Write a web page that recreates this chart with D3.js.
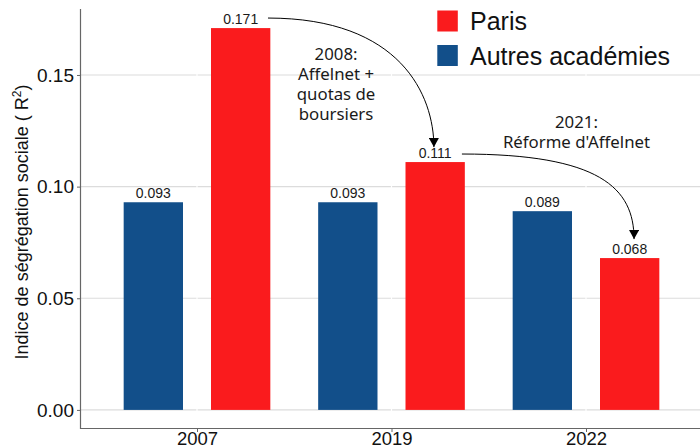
<!DOCTYPE html>
<html>
<head>
<meta charset="utf-8">
<script src="https://cdn.jsdelivr.net/npm/d3@7"></script>
<style>
  html, body { margin: 0; padding: 0; background: #fff; }
  svg { display: block; }
</style>
</head>
<body>
<svg id="chart" width="700" height="448"></svg>
<script>
// ---- data ----
const categories = ["2007", "2019", "2022"];
const seriesNames = ["Autres académies", "Paris"];
const autresValues = [0.093, 0.093, 0.089];
const parisValues = [0.171, 0.111, 0.068];
const yTickValues = [0, 0.05, 0.10, 0.15];
const yTickLabels = ["0.00", "0.05", "0.10", "0.15"];
const legendLabels = ["Paris", "Autres académies"];
const annotationTexts = [
  ["2008:", "Affelnet +", "quotas de", "boursiers"],
  ["2021:", "Réforme d'Affelnet"]
];
// annotation anchors in data units (x: category position, y: value)
const annotationX = [1.715, 2.951];
const annotationY = [0.1567, 0.1261];
// arrows: start / end in data units (x: category position, y: value)
const arrowStartX = [1.365, 2.362];
const arrowStartY = [0.1755, 0.1146];
const arrowEndX = [2.218, 3.247];
const arrowEndY = [0.1177, 0.0765];

// ---- styles ----
const RED = "#fa1b1d";
const BLUE = "#124f8a";
const colorOf = { "Paris": RED, "Autres académies": BLUE };

const svg = d3.select("#chart");
const W = 700, H = 448;

const x = d3.scaleLinear().domain([0.4, 3.6]).range([80.3, 702.7]);
const y = d3.scaleLinear().domain([-0.00855, 0.17955]).range([429, 9]);

const dodge = 0.2245;   // category units
const barW = 0.305;     // category units

// horizontal gridlines
svg.append("g").selectAll("line").data(yTickValues).join("line")
  .attr("x1", x(0.4)).attr("x2", W)
  .attr("y1", d => y(d)).attr("y2", d => y(d))
  .attr("stroke", "#dcdcdc").attr("stroke-width", 1.1);

// vertical white major gridlines (ggplot style)
svg.append("g").selectAll("line").data(categories).join("line")
  .attr("x1", (d, i) => x(i + 1)).attr("x2", (d, i) => x(i + 1))
  .attr("y1", y.range()[1]).attr("y2", y.range()[0])
  .attr("stroke", "#ffffff").attr("stroke-width", 1.2);

// bars
const barData = [];
categories.forEach((c, i) => {
  barData.push({ cat: i + 1, series: "Autres académies", value: autresValues[i], off: -dodge });
  barData.push({ cat: i + 1, series: "Paris", value: parisValues[i], off: dodge });
});

svg.append("g").selectAll("rect").data(barData).join("rect")
  .attr("x", d => x(d.cat + d.off - barW / 2))
  .attr("width", d => x(d.cat + d.off + barW / 2) - x(d.cat + d.off - barW / 2))
  .attr("y", d => y(d.value))
  .attr("height", d => y(0) - y(d.value))
  .attr("fill", d => colorOf[d.series]);

// value labels
svg.append("g").selectAll("text").data(barData).join("text")
  .attr("x", d => x(d.cat + d.off))
  .attr("y", d => y(d.value) - 4.5)
  .attr("text-anchor", "middle")
  .attr("font-family", "Liberation Sans, Arial, sans-serif")
  .attr("font-size", 14)
  .attr("fill", "#1a1a1a")
  .text(d => d.value.toFixed(3));

// axes
const yAxis = d3.axisLeft(y).tickValues(yTickValues)
  .tickFormat((d, i) => yTickLabels[i]).tickSize(3.5).tickPadding(3);
const gy = svg.append("g").attr("transform", "translate(80.5,0)").call(yAxis);
gy.select(".domain").remove();
gy.selectAll(".tick line").attr("stroke", "#666");
gy.selectAll(".tick text")
  .attr("font-family", "Liberation Sans, Arial, sans-serif")
  .attr("font-size", 19).attr("fill", "#111");

const xAxis = d3.axisBottom(x).tickValues([1, 2, 3])
  .tickFormat((d, i) => categories[i]).tickSize(3.5).tickPadding(0);
const gx = svg.append("g").attr("transform", "translate(0,428.5)").call(xAxis);
gx.select(".domain").remove();
gx.selectAll(".tick line").attr("stroke", "#666");
gx.selectAll(".tick text")
  .attr("font-family", "Liberation Sans, Arial, sans-serif")
  .attr("font-size", 18.5).attr("fill", "#111");

// axis lines
svg.append("line").attr("x1", 80.5).attr("x2", 80.5).attr("y1", 9).attr("y2", 429)
  .attr("stroke", "#666").attr("stroke-width", 1.2);
svg.append("line").attr("x1", 80).attr("x2", W).attr("y1", 428.5).attr("y2", 428.5)
  .attr("stroke", "#666").attr("stroke-width", 1.2);

// y axis title
const yt = svg.append("text")
  .attr("transform", `translate(28,222) rotate(-90)`)
  .attr("text-anchor", "middle")
  .attr("font-family", "Liberation Sans, Arial, sans-serif")
  .attr("font-size", 18).attr("fill", "#111");
yt.append("tspan").text("Indice de ségrégation sociale ( R");
yt.append("tspan").attr("font-size", 12).attr("dy", -7).text("2");
yt.append("tspan").attr("dy", 7).text(")");

// annotation texts
annotationTexts.forEach((lines, k) => {
  const t = svg.append("text")
    .attr("text-anchor", "middle")
    .attr("font-family", "Noto Sans, Open Sans, sans-serif")
    .attr("font-size", 16.8).attr("fill", "#1a1a1a");
  lines.forEach((ln, j) => {
    t.append("tspan").attr("x", x(annotationX[k]))
      .attr("y", y(annotationY[k]) + j * 20).text(ln);
  });
});

// arrows
const defs = svg.append("defs");
defs.append("marker").attr("id", "arrowhead")
  .attr("viewBox", "0 0 10 10").attr("refX", 10).attr("refY", 5)
  .attr("markerWidth", 9).attr("markerHeight", 10)
  .attr("markerUnits", "userSpaceOnUse").attr("orient", "auto")
  .attr("preserveAspectRatio", "none")
  .append("path").attr("d", "M0,0 L10,5 L0,10 Z").attr("fill", "#000");

const bend = [{ a: 0.8, b: 0.4 }, { a: 0.8, b: 0.6 }];
arrowStartX.forEach((sx, k) => {
  const x0 = x(sx), y0 = y(arrowStartY[k]);
  const x3 = x(arrowEndX[k]), y3 = y(arrowEndY[k]);
  const p = d3.path();
  p.moveTo(x0, y0);
  p.bezierCurveTo(x0 + bend[k].a * (x3 - x0), y0,
                  x3, y3 - bend[k].b * (y3 - y0),
                  x3, y3);
  svg.append("path").attr("d", p.toString())
    .attr("fill", "none").attr("stroke", "#000").attr("stroke-width", 1)
    .attr("marker-end", "url(#arrowhead)");
});

// legend
const lg = svg.append("g");
legendLabels.forEach((name, i) => {
  const ly = 10.5 + i * 34.5;
  lg.append("rect").attr("x", 437.3).attr("y", ly).attr("width", 20.5).attr("height", 21)
    .attr("fill", colorOf[name]);
  lg.append("text").attr("x", 470).attr("y", ly + 10.5).attr("dy", "0.36em")
    .attr("font-family", "Liberation Sans, Arial, sans-serif")
    .attr("font-size", 25).attr("fill", "#111").text(name);
});
</script>
</body>
</html>
